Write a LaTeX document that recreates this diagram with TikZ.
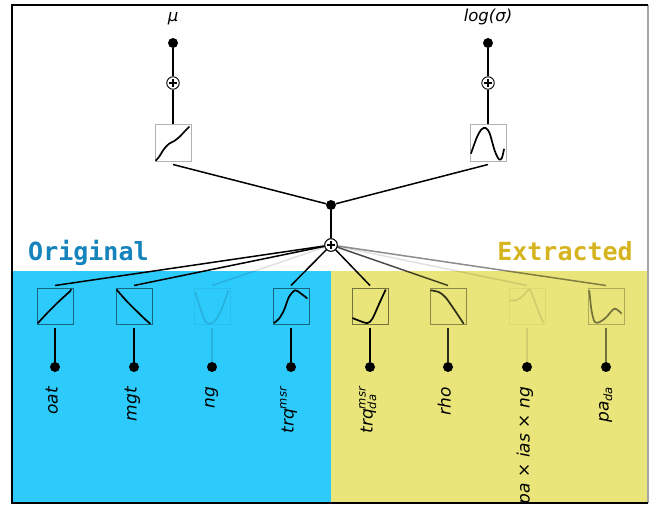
\documentclass[tikz,border=0pt]{standalone}
\usepackage{fontspec}
\setmainfont{DejaVu Sans}
\newfontfamily\titlemono{DejaVu Sans Mono}
\definecolor{origbg}{RGB}{45,202,252}
\definecolor{extrbg}{RGB}{233,229,122}
\definecolor{origtxt}{RGB}{22,132,188}
\definecolor{extrtxt}{RGB}{214,180,32}
\newlength\sswa
\newlength\sswb
\newcommand\subfnt{\fontsize{11.5}{11.5}\selectfont}
\newcommand\supsub[2]{\settowidth\sswa{\subfnt #1}\settowidth\sswb{\subfnt #2}\ifdim\sswb>\sswa\relax\setlength\sswa{\sswb}\fi\makebox[\sswa][l]{\rlap{\raisebox{7pt}{\subfnt #1}}\raisebox{-3.5pt}{\subfnt #2}}}
\newcommand\supx[1]{\raisebox{7pt}{\subfnt #1}}
\newcommand\subx[1]{\raisebox{-3.5pt}{\subfnt #1}}
\tikzset{
  dotnode/.style={circle,fill=black,inner sep=0pt,minimum size=10pt},
  plusnode/.style={circle,draw=black,fill=white,inner sep=0pt,minimum size=12.5pt,line width=0.9pt},
  fnbox/.style={draw=black,draw opacity=0.3,line width=1pt,minimum size=36pt,inner sep=0pt},
  link/.style={line width=1.5pt,black},
  feat/.style={font=\fontsize{17}{17}\selectfont\itshape,rotate=90,anchor=mid east,inner sep=0pt},
  toplab/.style={font=\fontsize{16.5}{16.5}\selectfont\itshape,anchor=base,inner sep=0pt},
  fcurve/.style={line width=1.7pt,black},
  grouplab/.style={font=\titlemono\bfseries\fontsize{25}{25}\selectfont,anchor=base west,inner sep=0pt}
}
\newcommand\plusmark[1]{\draw[line width=1.1pt] ([xshift=-3.8pt]#1.center) -- ([xshift=3.8pt]#1.center) ([yshift=-3.8pt]#1.center) -- ([yshift=3.8pt]#1.center);}
\begin{document}
\begin{tikzpicture}[x=1pt,y=-1pt]
\useasboundingbox (0,0) rectangle (660,505);
% backgrounds
\fill[origbg] (12,271) rectangle (331,503);
\fill[extrbg] (331,271) rectangle (648,503);
% group labels
\node[grouplab,text=origtxt] (gorig) at (28,260.5) {Original};
\node[grouplab,text=extrtxt,anchor=base east] (gextr) at (633,260.5) {Extracted};

% top part
\node[toplab] (lmu) at (173,22) {μ};
\node[toplab] (lsig) at (488,22) {log(σ)};
\node[dotnode] (dmu) at (173,43) {};
\node[dotnode] (dsig) at (488,43) {};
\node[plusnode] (pmu) at (173,83) {};
\node[plusnode] (psig) at (488,83) {};
\node[fnbox] (bmu) at (173,143) {};
\node[fnbox] (bsig) at (488,143) {};
\node[dotnode] (dc) at (331,205) {};
\node[plusnode] (pc) at (331,245) {};

\draw[link] (dmu) -- (pmu);
\draw[link] (pmu) -- (bmu.north);
\draw[link] (dsig) -- (psig);
\draw[link] (psig) -- (bsig.north);
\draw[link] ([yshift=-3pt]bmu.south) -- (dc);
\draw[link] ([yshift=-3pt]bsig.south) -- (dc);
\draw[link] (dc) -- (pc);

\begin{scope}[shift={(bmu.south west)},x=36pt,y=36pt]
\draw[fcurve] plot[smooth] coordinates {(0.03,0.02) (0.12,0.12) (0.26,0.34) (0.4,0.49) (0.55,0.57) (0.7,0.69) (0.85,0.85) (0.97,0.97)};
\end{scope}
\begin{scope}[shift={(bsig.south west)},x=36pt,y=36pt]
\draw[fcurve] plot[smooth] coordinates {(0.04,0.22) (0.2,0.66) (0.33,0.89) (0.45,0.93) (0.56,0.78) (0.7,0.3) (0.82,0.06) (0.9,0.1) (0.96,0.35)};
\end{scope}

% feature: #1 name, #2 x, #3 connector opacity, #4 box opacity, #5 curve, #6 label
\newcommand\feature[6]{%
  \node[fnbox,draw opacity=0.5*#4] (b#1) at (#2,306) {};
  \node[dotnode] (d#1) at (#2,367) {};
  \draw[link,draw opacity=#3] (pc) -- ([yshift=2pt]b#1.north);
  \draw[link,draw opacity=#4] ([yshift=-3pt]b#1.south) -- (d#1);
  \begin{scope}[shift={(b#1.south west)},x=36pt,y=36pt]
    \draw[fcurve,draw opacity=#4] plot[smooth] coordinates {#5};
  \end{scope}
  \node[feat] (l#1) at (#2,387) {#6};
}
\feature{oat}{55}{1}{1}{(0.03,0.03) (0.3,0.32) (0.6,0.62) (0.85,0.85) (0.93,0.92) (0.96,0.98)}{oat}
\feature{mgt}{134}{1}{1}{(0.03,0.97) (0.3,0.66) (0.6,0.36) (0.85,0.12) (0.97,0.02)}{mgt}
\feature{ng}{212}{0.12}{0.12}{(0.05,0.9) (0.2,0.42) (0.32,0.1) (0.43,0.03) (0.56,0.07) (0.75,0.35) (0.97,0.95)}{ng}
\feature{trqm}{291}{1}{1}{(0.04,0.04) (0.18,0.16) (0.32,0.4) (0.46,0.77) (0.63,0.95) (0.79,0.86) (0.97,0.72)}{trq\supx{msr}}
\feature{trqd}{370}{1}{1}{(0.03,0.18) (0.2,0.11) (0.44,0.04) (0.58,0.16) (0.77,0.58) (0.95,0.97)}{trq\supsub{msr}{da}}
\feature{rho}{448}{0.7}{0.8}{(0.03,0.95) (0.26,0.9) (0.44,0.76) (0.67,0.44) (0.95,0.02)}{rho}
\feature{pain}{527}{0.12}{0.1}{(0.04,0.67) (0.2,0.67) (0.39,0.78) (0.58,0.97) (0.72,0.67) (0.86,0.3) (0.97,0.04)}{pa {\upshape×} ias {\upshape×} ng}
\feature{pada}{606}{0.45}{0.5}{(0.05,0.95) (0.11,0.4) (0.2,0.07) (0.34,0.07) (0.52,0.2) (0.75,0.44) (0.95,0.3)}{pa\subx{da}}

\node[plusnode] (pc2) at (pc) {};
\plusmark{pmu}
\plusmark{psig}
\plusmark{pc2}

% frame
\draw[black!35,line width=1.5pt] (648,5) -- (648,503);
\draw[black,line width=1.5pt] (648,5) -- (12,5) -- (12,503) -- (648,503);
\end{tikzpicture}
\end{document}
